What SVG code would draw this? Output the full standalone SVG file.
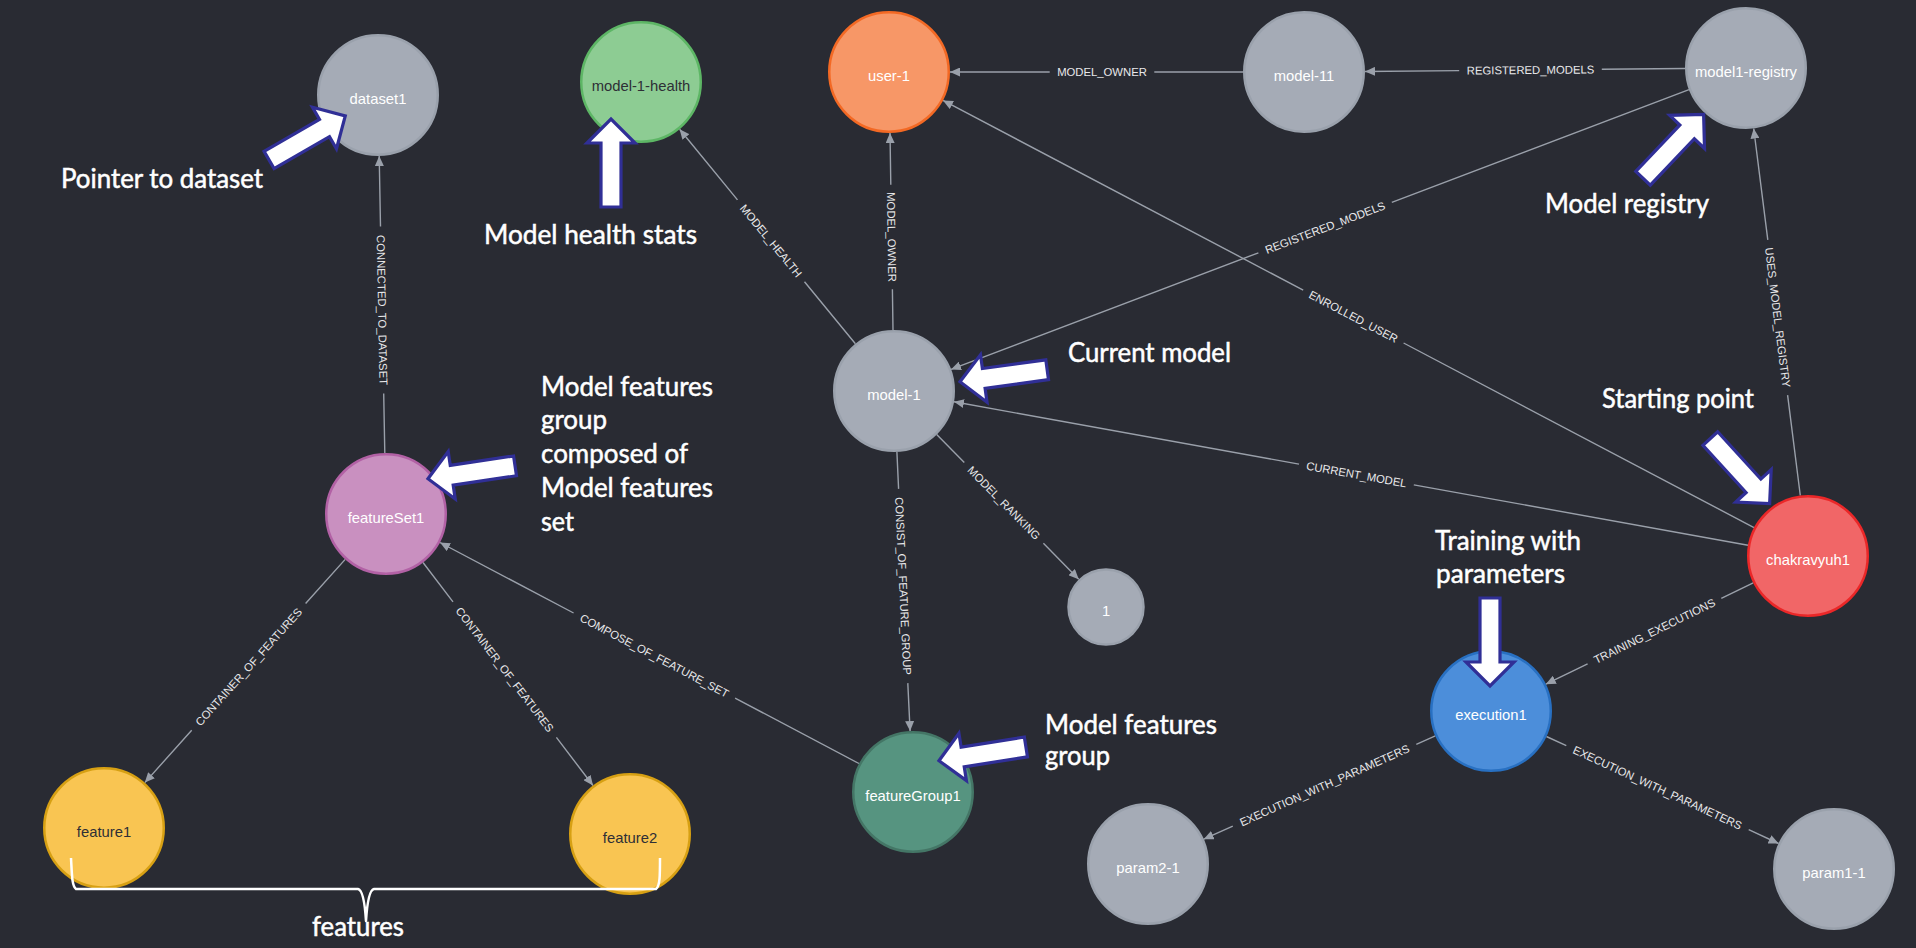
<svg xmlns="http://www.w3.org/2000/svg" width="1916" height="948" viewBox="0 0 1916 948">
<style>
.edge{stroke:#9aa0aa;stroke-width:1.4;fill:none}
.el{font-family:"Liberation Sans",Arial,sans-serif;font-size:11.3px;fill:#e8e8ea;text-anchor:middle}
.nc{stroke-width:2.5}
.nt{font-family:"Liberation Sans",Arial,sans-serif;font-size:14.8px;text-anchor:middle;fill:#ffffff}
.dark{fill:#2e2f36}
.grey{fill:#a5abb6;stroke:#9aa1ac}
.ann{fill:#ffffff;stroke:#302f96;stroke-width:3.2;stroke-linejoin:miter}
.at{font-family:Lato,"Open Sans",sans-serif;font-size:26px;fill:#ffffff;stroke:#ffffff;stroke-width:0.5}
.brace{fill:none;stroke:#ffffff;stroke-width:2.5;stroke-linejoin:round}
</style>
<defs>
<marker id="ah" markerUnits="userSpaceOnUse" markerWidth="10" markerHeight="9" refX="10" refY="4.5" orient="auto">
<path d="M0,0 L10,4.5 L0,9 Z" fill="#9aa0aa"/>
</marker>
<polygon id="blk" points="-90,-10 -26,-10 -26,-24 -2,0 -26,24 -26,10 -90,10"/>
</defs>
<rect width="1916" height="948" fill="#292b33"/>
<g id="connectors">
<g id="e-connected-to-dataset"><path class="edge" marker-end="url(#ah)" d="M384.8,453 L383.7,393.6 M380.5,226.4 L379.2,156"/><text class="el" transform="translate(382.1,310) rotate(88.9)" y="4">CONNECTED_TO_DATASET</text></g>
<g id="e-model-health"><path class="edge" marker-end="url(#ah)" d="M855.4,343.8 L804.5,281.7 M737.5,199.9 L679.6,129.2"/><text class="el" transform="translate(771,240.8) rotate(50.7)" y="4">MODEL_HEALTH</text></g>
<g id="e-model-owner-1"><path class="edge" marker-end="url(#ah)" d="M893,330 L892.4,289.3 M890.8,184.7 L890,133"/><text class="el" transform="translate(891.6,237) rotate(89.1)" y="4">MODEL_OWNER</text></g>
<g id="e-model-owner-2"><path class="edge" marker-end="url(#ah)" d="M1243,72 L1154.3,72 M1049.7,72 L950,72"/><text class="el" transform="translate(1102,72)" y="4">MODEL_OWNER</text></g>
<g id="e-registered-models-1"><path class="edge" marker-end="url(#ah)" d="M1685,68.55 L1601.8,69.3 M1459.2,70.6 L1365,71.45"/><text class="el" transform="translate(1530.5,70) rotate(-0.5)" y="4">REGISTERED_MODELS</text></g>
<g id="e-registered-models-2"><path class="edge" marker-end="url(#ah)" d="M1689,89.6 L1391.8,202.3 M1258.4,252.8 L951,369.4"/><text class="el" transform="translate(1325.1,227.6) rotate(-20.8)" y="4">REGISTERED_MODELS</text></g>
<g id="e-enrolled-user"><path class="edge" marker-end="url(#ah)" d="M1754,527.6 L1403.6,343 M1303.2,290.1 L943,100.4"/><text class="el" transform="translate(1353.4,316.6) rotate(27.8)" y="4">ENROLLED_USER</text></g>
<g id="e-uses-model-registry"><path class="edge" marker-end="url(#ah)" d="M1800.3,495.5 L1787.6,395.1 M1767.8,239.8 L1753.7,128.5"/><text class="el" transform="translate(1777.7,317.5) rotate(82.8)" y="4">USES_MODEL_REGISTRY</text></g>
<g id="e-current-model"><path class="edge" marker-end="url(#ah)" d="M1748,545.2 L1413.8,484.9 M1299,464.1 L954,401.8"/><text class="el" transform="translate(1356.4,474.5) rotate(10.2)" y="4">CURRENT_MODEL</text></g>
<g id="e-model-ranking"><path class="edge" marker-end="url(#ah)" d="M936.7,434.5 L964.3,462.6 M1043.4,543.2 L1078.7,579.2"/><text class="el" transform="translate(1003.9,502.9) rotate(45.5)" y="4">MODEL_RANKING</text></g>
<g id="e-consist-of-feature-group"><path class="edge" marker-end="url(#ah)" d="M896.9,451.9 L898.6,488.9 M907.8,683.1 L910.1,731.1"/><text class="el" transform="translate(903.2,586) rotate(87.3)" y="4">CONSIST_OF_FEATURE_GROUP</text></g>
<g id="e-compose-of-feature-set"><path class="edge" marker-end="url(#ah)" d="M859,763.5 L735.1,698.1 M573.6,613 L440,542.5"/><text class="el" transform="translate(654.4,655.6) rotate(27.8)" y="4">COMPOSE_OF_FEATURE_SET</text></g>
<g id="e-container-1"><path class="edge" marker-end="url(#ah)" d="M345.2,559.4 L305.6,603.5 M191.7,730.3 L144.8,782.6"/><text class="el" transform="translate(248.7,666.9) rotate(-48.1)" y="4">CONTAINER_OF_FEATURES</text></g>
<g id="e-container-2"><path class="edge" marker-end="url(#ah)" d="M423,562.5 L453,601.8 M556.4,737.4 L593,785.5"/><text class="el" transform="translate(504.7,669.6) rotate(52.7)" y="4">CONTAINER_OF_FEATURES</text></g>
<g id="e-training-executions"><path class="edge" marker-end="url(#ah)" d="M1753.2,582.8 L1721.3,598.4 M1587.6,663.8 L1545.8,684.2"/><text class="el" transform="translate(1654.4,631.1) rotate(-26.1)" y="4">TRAINING_EXECUTIONS</text></g>
<g id="e-exec-params-1"><path class="edge" marker-end="url(#ah)" d="M1435.3,735.9 L1416.3,744.3 M1232.8,826.2 L1203.7,839.2"/><text class="el" transform="translate(1324.5,785.3) rotate(-24)" y="4">EXECUTION_WITH_PARAMETERS</text></g>
<g id="e-exec-params-2"><path class="edge" marker-end="url(#ah)" d="M1546.4,736.5 L1566.3,745.7 M1748.7,829.7 L1778.6,843.5"/><text class="el" transform="translate(1657.5,787.7) rotate(24.7)" y="4">EXECUTION_WITH_PARAMETERS</text></g>
</g>
<g id="n-dataset1"><circle class="nc grey" cx="378" cy="95" r="59.75"/><text class="nt" x="378" y="103.5">dataset1</text></g>
<g id="n-model-1-health"><circle class="nc" cx="641" cy="82" r="59.75" fill="#8dcc93" stroke="#5db665"/><text class="nt dark" x="641" y="90.5">model-1-health</text></g>
<g id="n-user-1"><circle class="nc" cx="889" cy="72" r="59.75" fill="#f79767" stroke="#f36924"/><text class="nt" x="889" y="80.5">user-1</text></g>
<g id="n-model-11"><circle class="nc grey" cx="1304" cy="72" r="59.75"/><text class="nt" x="1304" y="80.5">model-11</text></g>
<g id="n-model1-registry"><circle class="nc grey" cx="1746" cy="68" r="59.75"/><text class="nt" x="1746" y="76.5">model1-registry</text></g>
<g id="n-model-1"><circle class="nc grey" cx="894" cy="391" r="59.75"/><text class="nt" x="894" y="399.5">model-1</text></g>
<g id="n-featureSet1"><circle class="nc" cx="386" cy="514" r="59.75" fill="#c990c0" stroke="#b261a5"/><text class="nt" x="386" y="522.5">featureSet1</text></g>
<g id="n-feature1"><circle class="nc" cx="104" cy="828" r="59.75" fill="#f9c552" stroke="#d7a013"/><text class="nt dark" x="104" y="836.5">feature1</text></g>
<g id="n-feature2"><circle class="nc" cx="630" cy="834" r="59.75" fill="#f9c552" stroke="#d7a013"/><text class="nt dark" x="630" y="842.5">feature2</text></g>
<g id="n-featureGroup1"><circle class="nc" cx="913" cy="792" r="59.75" fill="#569480" stroke="#447666"/><text class="nt" x="913" y="800.5">featureGroup1</text></g>
<g id="n-1"><circle class="nc grey" cx="1106" cy="607" r="37.5"/><text class="nt" x="1106" y="615.5">1</text></g>
<g id="n-param2-1"><circle class="nc grey" cx="1148" cy="864" r="59.75"/><text class="nt" x="1148" y="872.5">param2-1</text></g>
<g id="n-chakravyuh1"><circle class="nc" cx="1808" cy="556" r="59.75" fill="#f16667" stroke="#eb2728"/><text class="nt" x="1808" y="564.5">chakravyuh1</text></g>
<g id="n-execution1"><circle class="nc" cx="1491" cy="711" r="59.75" fill="#4c8eda" stroke="#2870c2"/><text class="nt" x="1491" y="719.5">execution1</text></g>
<g id="n-param1-1"><circle class="nc grey" cx="1834" cy="869" r="59.75"/><text class="nt" x="1834" y="877.5">param1-1</text></g>
<g id="annotations">
<use href="#blk" class="ann" transform="translate(347,115) rotate(-30)"/>
<use href="#blk" class="ann" transform="translate(611,117) rotate(-90)"/>
<use href="#blk" class="ann" transform="translate(426,479) rotate(171.6)"/>
<use href="#blk" class="ann" transform="translate(958,382) rotate(172.2)"/>
<use href="#blk" class="ann" transform="translate(1705,113) rotate(-46.5)"/>
<use href="#blk" class="ann" transform="translate(1771,505) rotate(47.6)"/>
<use href="#blk" class="ann" transform="translate(1490,688) rotate(90)"/>
<use href="#blk" class="ann" transform="translate(937,761) rotate(171)"/>
<text class="at" x="61" y="188" textLength="202" lengthAdjust="spacingAndGlyphs">Pointer to dataset</text>
<text class="at" x="484" y="244" textLength="213" lengthAdjust="spacingAndGlyphs">Model health stats</text>
<text class="at" x="1068" y="362" textLength="163" lengthAdjust="spacingAndGlyphs">Current model</text>
<text class="at" x="1545" y="213" textLength="164" lengthAdjust="spacingAndGlyphs">Model registry</text>
<text class="at" x="1602" y="408" textLength="152" lengthAdjust="spacingAndGlyphs">Starting point</text>
<text class="at" x="1435" y="550" textLength="146" lengthAdjust="spacingAndGlyphs">Training with</text>
<text class="at" x="1436" y="583" textLength="129" lengthAdjust="spacingAndGlyphs">parameters</text>
<text class="at" x="1045" y="734" textLength="172" lengthAdjust="spacingAndGlyphs">Model features</text>
<text class="at" x="1045" y="765" textLength="65" lengthAdjust="spacingAndGlyphs">group</text>
<text class="at" x="541" y="396" textLength="172" lengthAdjust="spacingAndGlyphs">Model features</text>
<text class="at" x="541" y="429" textLength="66" lengthAdjust="spacingAndGlyphs">group</text>
<text class="at" x="541" y="463" textLength="147" lengthAdjust="spacingAndGlyphs">composed of</text>
<text class="at" x="541" y="497" textLength="172" lengthAdjust="spacingAndGlyphs">Model features</text>
<text class="at" x="541" y="531" textLength="33" lengthAdjust="spacingAndGlyphs">set</text>
<path class="brace" d="M71,858 C72,876 72,886 76,889 L358,889 C363,890 365,905 366,921 C367,905 369,890 374,889 L656,889 C660,886 660,876 660,858"/>
<text class="at" x="312" y="936" textLength="92" lengthAdjust="spacingAndGlyphs">features</text>
</g>
</svg>
